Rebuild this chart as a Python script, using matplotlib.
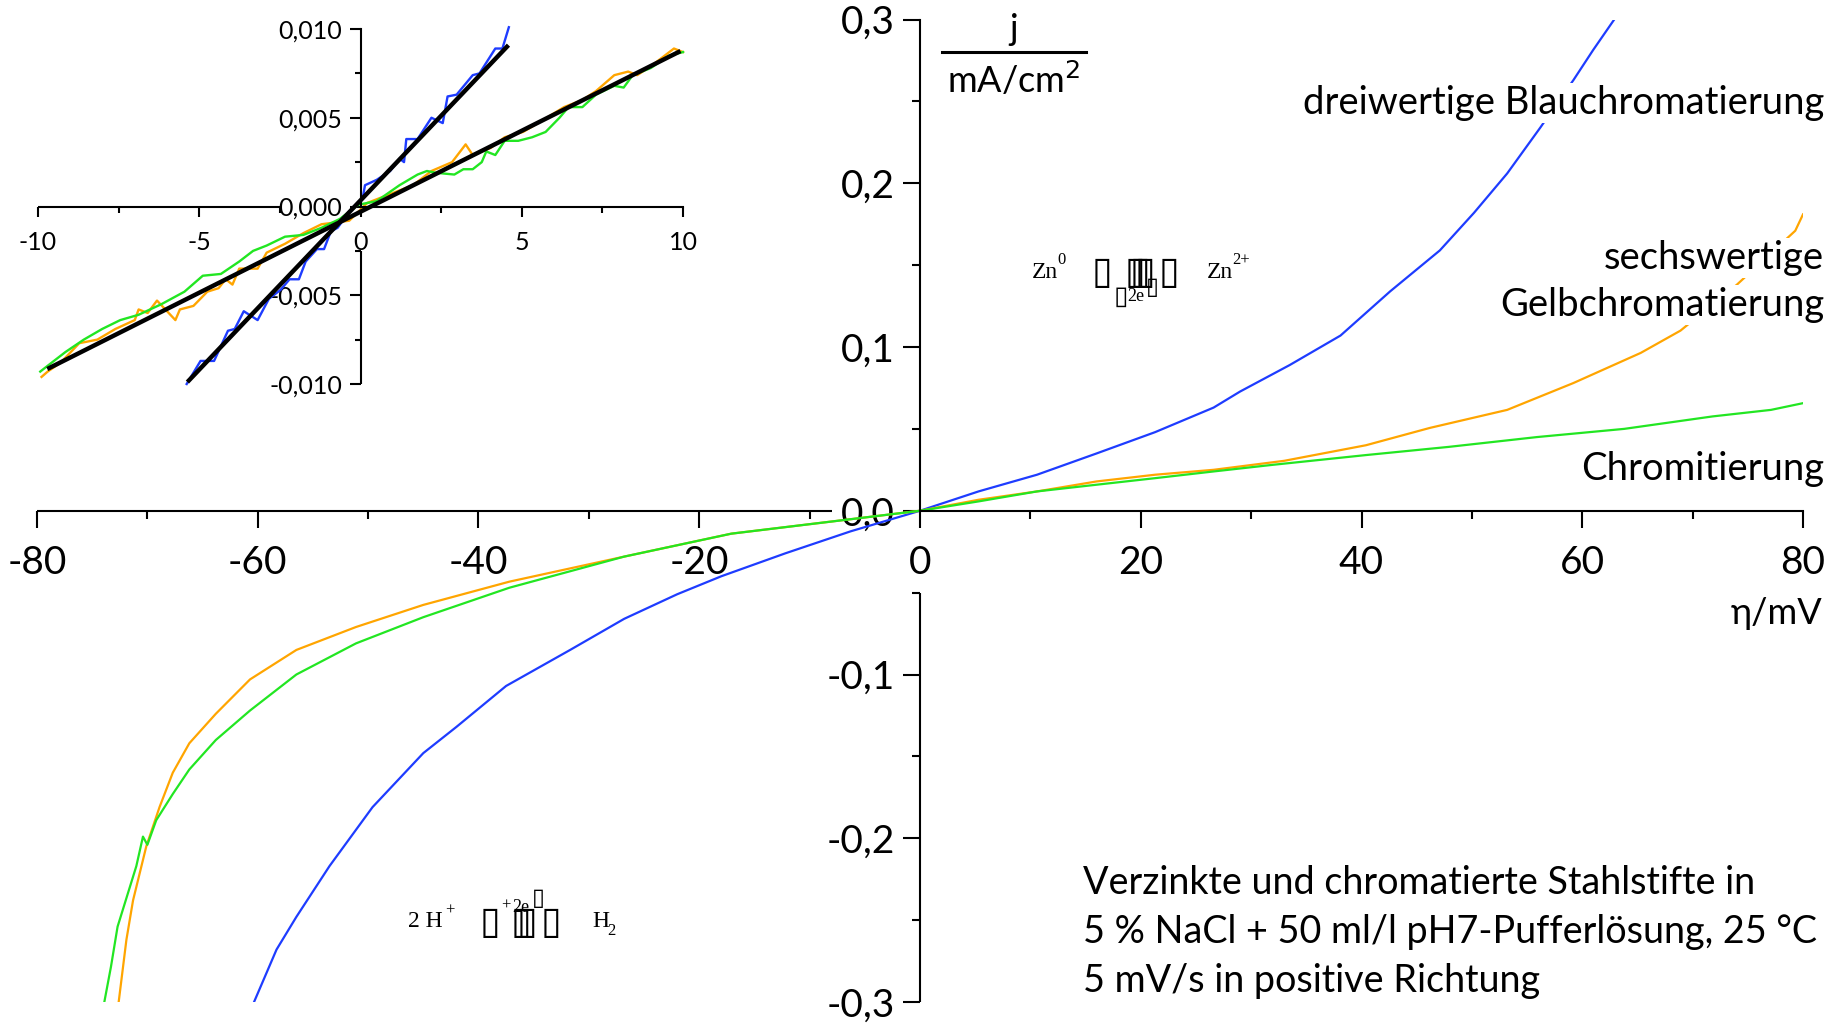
import numpy as np
import matplotlib
matplotlib.use("Agg")
import matplotlib.pyplot as plt
from matplotlib.lines import Line2D

plt.rcParams['font.family'] = ['Lato', 'DejaVu Sans']

# --- main curves (eta in mV, j in mA/cm^2) ---
blue_x = [-60.4, -58.3, -56.5, -53.5, -49.6, -45.0, -42.0, -37.5, -31.7, -26.8, -22.0, -18.0,
          -12.2, -6.3, 0, 5.3, 10.6, 16.0, 21.3, 26.6, 29.0, 33.5, 38.1, 42.6, 47.1, 50.2,
          53.2, 56.2, 59.2, 61.0, 63.0]
blue_y = [-0.301, -0.268, -0.248, -0.217, -0.181, -0.148, -0.132, -0.107, -0.085, -0.066, -0.051,
          -0.040, -0.026, -0.0126, 0, 0.0118, 0.022, 0.035, 0.048, 0.063, 0.0728, 0.089, 0.107,
          0.134, 0.159, 0.182, 0.206, 0.234, 0.263, 0.2815, 0.301]

orange_x = [-72.6, -71.9, -71.3, -70.1, -68.9, -67.7, -66.2, -63.8, -60.7, -56.5, -51.1, -45.0,
            -37.2, -26.8, -17.1, -7.3, 0, 5.3, 10.6, 16.0, 21.3, 26.6, 33.0, 40.4, 46.2, 53.2,
            59.2, 65.3, 68.9, 74.0, 79.3, 80.0]
orange_y = [-0.300, -0.262, -0.238, -0.205, -0.181, -0.160, -0.142, -0.124, -0.103, -0.085, -0.071,
            -0.0575, -0.0433, -0.028, -0.014, -0.006, 0, 0.0067, 0.0118, 0.0179, 0.022, 0.025,
            0.0305, 0.040, 0.0506, 0.0616, 0.078, 0.0964, 0.110, 0.138, 0.171, 0.181]

green_x = [-73.9, -73.3, -72.7, -71.0, -70.4, -70.0, -69.2, -67.7, -66.2, -63.8, -60.7, -56.5,
           -51.1, -45.0, -37.2, -26.8, -17.1, -7.3, 0, 5.3, 10.6, 16.0, 21.3, 26.6, 31.9, 40.4,
           47.9, 55.9, 63.8, 71.8, 77.1, 80.0]
green_y = [-0.300, -0.2785, -0.254, -0.217, -0.199, -0.204, -0.189, -0.173, -0.158, -0.140, -0.122,
           -0.100, -0.081, -0.065, -0.047, -0.028, -0.014, -0.006, 0, 0.0057, 0.0118, 0.0159,
           0.0199, 0.024, 0.028, 0.034, 0.039, 0.045, 0.050, 0.0576, 0.0616, 0.0657]

# --- inset (zoom around 0) ---
in_blue_x = [-5.39, -4.96, -4.54, -4.11, -3.90, -3.62, -3.19, -2.84, -2.48, -2.20, -1.91, -1.70,
             -1.35, -1.13, -0.92, -0.71, -0.35, 0.07, 0.14, 0.50, 0.92, 1.21, 1.35, 1.42, 1.77,
             2.20, 2.55, 2.70, 2.98, 3.48, 3.69, 4.18, 4.40, 4.60]
in_blue_y = [-0.0100, -0.0087, -0.0087, -0.0070, -0.0069, -0.0059, -0.0064, -0.0052, -0.0047,
             -0.0041, -0.0041, -0.0031, -0.0024, -0.0024, -0.0014, -0.0012, -0.0003, 0.0005,
             0.0012, 0.0015, 0.0020, 0.0027, 0.0025, 0.0038, 0.0038, 0.0050, 0.0047, 0.0062,
             0.0063, 0.0074, 0.0075, 0.0089, 0.0089, 0.0101]

in_orange_x = [-9.89, -9.70, -9.30, -8.72, -8.16, -7.60, -7.00, -6.88, -6.60, -6.31, -5.74, -5.60,
               -5.18, -4.75, -4.40, -4.18, -3.97, -3.76, -3.19, -2.91, -2.34, -1.77, -1.21, -0.35,
               0.21, 1.06, 1.63, 2.20, 2.84, 3.26, 3.48, 4.04, 4.47, 5.04, 5.60, 6.31, 6.88,
               7.30, 7.87, 8.30, 8.58, 9.00, 9.72, 10.0]
in_orange_y = [-0.0096, -0.0093, -0.0088, -0.0077, -0.0075, -0.0069, -0.0064, -0.0058, -0.0060,
               -0.0053, -0.0064, -0.0058, -0.0056, -0.0048, -0.0046, -0.0041, -0.0044, -0.0035,
               -0.0035, -0.0026, -0.0021, -0.0015, -0.0010, -0.0008, 0.0002, 0.0008, 0.0012,
               0.0020, 0.0025, 0.0035, 0.0029, 0.0033, 0.0039, 0.0042, 0.0048, 0.0056, 0.0060,
               0.0065, 0.0074, 0.0076, 0.0074, 0.0079, 0.0089, 0.0087]

in_green_x = [-9.93, -9.79, -9.15, -8.58, -8.01, -7.45, -6.88, -6.17, -5.46, -4.89, -4.33, -3.76,
              -3.33, -2.91, -2.34, -1.77, -1.21, -0.64, -0.07, 0.50, 1.21, 1.77, 2.06, 2.34,
              2.91, 3.19, 3.48, 3.76, 3.90, 4.18, 4.47, 4.89, 5.32, 5.74, 6.17, 6.45, 6.88,
              7.30, 7.87, 8.16, 8.44, 9.00, 9.57, 10.0]
in_green_y = [-0.0093, -0.0091, -0.0082, -0.0075, -0.0069, -0.0064, -0.0061, -0.0055, -0.0048,
              -0.0039, -0.0038, -0.0031, -0.0025, -0.0022, -0.0017, -0.0016, -0.0012, -0.0007,
              0.0001, 0.0003, 0.0012, 0.0018, 0.0020, 0.0019, 0.0018, 0.0021, 0.0021, 0.0025,
              0.0031, 0.0029, 0.0037, 0.0037, 0.0039, 0.0042, 0.0050, 0.0056, 0.0056, 0.0063,
              0.0068, 0.0067, 0.0074, 0.0078, 0.0085, 0.0087]

# linear fits (end points)
fit_steep_x = [-5.32, 4.54]
fit_steep_y = [-0.0098, 0.0090]
fit_flat_x = [-9.65, 9.86]
fit_flat_y = [-0.0091, 0.0087]

x_ticks = [-80, -60, -40, -20, 0, 20, 40, 60, 80]
x_minor = [-70, -50, -30, -10, 10, 30, 50, 70]
y_ticks = [-0.3, -0.2, -0.1, 0.0, 0.1, 0.2, 0.3]
y_labels = ["-0,3", "-0,2", "-0,1", "0,0", "0,1", "0,2", "0,3"]
y_minor = [-0.25, -0.15, -0.05, 0.05, 0.15, 0.25]

in_x_ticks = [-10, -5, 0, 5, 10]
in_x_minor = [-7.5, -2.5, 2.5, 7.5]
in_y_ticks = [-0.010, -0.005, 0.0, 0.005, 0.010]
in_y_labels = ["-0,010", "-0,005", "0,000", "0,005", "0,010"]
in_y_minor = [-0.0075, -0.0025, 0.0025, 0.0075]

BLUE = "#1e3cff"
ORANGE = "#ffa500"
GREEN = "#22e622"

W, H = 1845, 1026


def fx(px):
    return px / W


def fy(py):
    return 1 - py / H


fig = plt.figure(figsize=(W / 100, H / 100), dpi=100)

# main axes: -80..80 -> px 37..1803, 0.3..-0.3 -> px 19.5..1002
ax = fig.add_axes([fx(37), fy(1002), (1803 - 37) / W, (1002 - 19.5) / H])
ax.set_xlim(-80, 80)
ax.set_ylim(-0.3, 0.3)
ax.patch.set_visible(False)

ax.plot(blue_x, blue_y, color=BLUE, lw=1.6)
ax.plot(orange_x, orange_y, color=ORANGE, lw=1.6)
ax.plot(green_x, green_y, color=GREEN, lw=1.6)

for s in ["top", "right"]:
    ax.spines[s].set_visible(False)
ax.spines["left"].set_position(("data", 0))
ax.spines["bottom"].set_position(("data", 0))
ax.spines["left"].set_bounds(0, 0.3)
ax.spines["bottom"].set_bounds(0, 80)
ax.spines["left"].set_linewidth(1.5)
ax.spines["bottom"].set_linewidth(1.5)
ax.plot([-80, -8], [0, 0], color="k", lw=1.5, clip_on=False, solid_capstyle="butt")
ax.plot([0, 0], [-0.05, -0.3], color="k", lw=1.5, clip_on=False, solid_capstyle="butt")

ax.set_xticks(x_ticks)
ax.set_xticklabels([str(v) for v in x_ticks])
ax.set_xticks(x_minor, minor=True)
ax.set_yticks(y_ticks)
ax.set_yticklabels(y_labels)
ax.set_yticks(y_minor, minor=True)
ax.tick_params(axis="x", which="major", direction="out", length=12, width=1.5, pad=13, labelsize=28)
ax.tick_params(axis="x", which="minor", direction="out", length=6, width=1.5)
ax.tick_params(axis="y", which="major", direction="out", length=12, width=1.5, pad=6, labelsize=28)
ax.tick_params(axis="y", which="minor", direction="out", length=6, width=1.5)

box = dict(facecolor="white", edgecolor="none", pad=1)
for label, py in [("dreiwertige Blauchromatierung", 103), ("sechswertige", 258),
                  ("Gelbchromatierung", 305), ("Chromitierung", 469)]:
    ax.text(fx(1824), fy(py), label, transform=fig.transFigure,
            ha="right", va="center", fontsize=27.5, bbox=box)

fig.text(fx(1822), fy(614), "η/mV", ha="right", va="center", fontsize=26)

# y axis unit as a fraction
fig.text(fx(1014), fy(30), "j", ha="center", va="center", fontsize=26)
fig.add_artist(Line2D([fx(942), fx(1086)], [fy(52), fy(52)], color="k", lw=2.2))
fig.text(fx(1014), fy(80), "mA/cm$^2$", ha="center", va="center", fontsize=26)

fig.text(fx(1083), fy(883), "Verzinkte und chromatierte Stahlstifte in", ha="left", va="center", fontsize=27.2)
fig.text(fx(1083), fy(932), "5 % NaCl + 50 ml/l pH7-Pufferlösung, 25 °C", ha="left", va="center", fontsize=27.2)
fig.text(fx(1083), fy(981), "5 mV/s in positive Richtung", ha="left", va="center", fontsize=27.2)

# reaction labels (glyphs missing in the original rendering)
serif = ["Liberation Serif", "DejaVu Sans"]
boxfont = ["DejaVu Sans"]
BOX = "\u25af"


def chem(px, py, s, size=17, fam=serif):
    fig.text(fx(px), fy(py), s, ha="left", va="baseline", fontsize=size, family=fam)


chem(1032, 278, "Zn")
chem(1057, 264, "0", 12)
chem(1092, 283, BOX, 27, boxfont)
for px in [1125, 1130, 1135]:
    chem(px, 283, BOX, 27, boxfont)
chem(1159, 283, BOX, 27, boxfont)
chem(1114, 304, BOX, 19, boxfont)
chem(1127, 301, "2e", 13)
chem(1146, 294, BOX, 17, boxfont)
chem(1207, 278, "Zn")
chem(1232, 264, "2+", 12)

chem(408, 927, "2 H")
chem(445, 915, "+", 12)
chem(480, 933, BOX, 27, boxfont)
for px in [511, 517]:
    chem(px, 933, BOX, 27, boxfont)
chem(541, 933, BOX, 27, boxfont)
chem(501, 910, "+", 12)
chem(512, 912, "2e", 13)
chem(532, 905, BOX, 17, boxfont)
chem(592, 927, "H")
chem(607, 935, "2", 12)

# inset: -10..10 -> px 38..683, 0.010..-0.010 -> px 29..384
axi = fig.add_axes([fx(38), fy(384), (683 - 38) / W, (384 - 29) / H])
axi.set_xlim(-10, 10)
axi.set_ylim(-0.010, 0.010)
axi.patch.set_visible(False)

axi.plot(in_orange_x, in_orange_y, color=ORANGE, lw=1.7, clip_on=False)
axi.plot(in_green_x, in_green_y, color=GREEN, lw=1.7, clip_on=False)
axi.plot(in_blue_x, in_blue_y, color=BLUE, lw=1.7, clip_on=False)
axi.plot(fit_steep_x, fit_steep_y, color="k", lw=3.2, clip_on=False)
axi.plot(fit_flat_x, fit_flat_y, color="k", lw=3.2, clip_on=False)

for s in ["top", "right"]:
    axi.spines[s].set_visible(False)
axi.spines["left"].set_position(("data", 0))
axi.spines["bottom"].set_position(("data", 0))
axi.spines["left"].set_bounds(0, 0.010)
axi.spines["bottom"].set_bounds(0, 10)
axi.spines["left"].set_linewidth(1.5)
axi.spines["bottom"].set_linewidth(1.5)
axi.plot([-10, -2.5], [0, 0], color="k", lw=1.5, clip_on=False, solid_capstyle="butt")
axi.plot([0, 0], [-0.0025, -0.010], color="k", lw=1.5, clip_on=False, solid_capstyle="butt")

axi.set_xticks(in_x_ticks)
axi.set_xticklabels([str(v) for v in in_x_ticks])
axi.set_xticks(in_x_minor, minor=True)
axi.set_yticks(in_y_ticks)
axi.set_yticklabels(in_y_labels)
axi.set_yticks(in_y_minor, minor=True)
axi.tick_params(axis="x", which="major", direction="out", length=7, width=1.5, pad=11, labelsize=18)
axi.tick_params(axis="x", which="minor", direction="out", length=4, width=1.5)
axi.tick_params(axis="y", which="major", direction="out", length=8, width=1.5, pad=5, labelsize=18)
axi.tick_params(axis="y", which="minor", direction="out", length=4, width=1.5)

fig.savefig("out.png", dpi=100)
plt.close(fig)
